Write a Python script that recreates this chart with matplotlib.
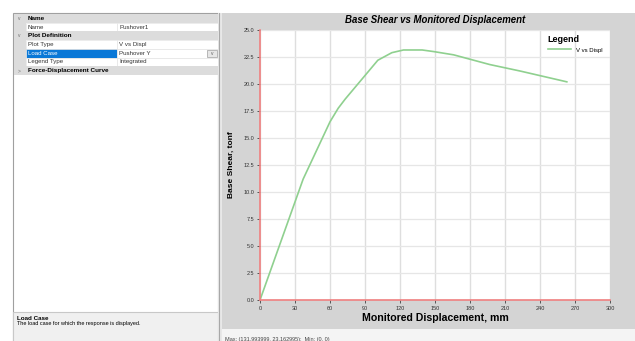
import matplotlib
matplotlib.use("Agg")
import matplotlib.pyplot as plt
from matplotlib.patches import Rectangle

plt.rcParams['font.family'] = ['Liberation Sans', 'DejaVu Sans']

# pushover curve
disp = [0, 37, 60, 67, 73, 101, 113, 123, 139, 149, 166, 197, 223, 263]
shear = [0, 11.2, 16.5, 17.75, 18.6, 22.2, 22.9, 23.15, 23.15, 23.0, 22.7, 21.8, 21.2, 20.2]

x_ticks = [0, 30, 60, 90, 120, 150, 180, 210, 240, 270, 300]
y_ticks = [0, 2.5, 5, 7.5, 10, 12.5, 15, 17.5, 20, 22.5, 25]

grid_rows = [("Name", None, True), ("Name", "Pushover1", False),
             ("Plot Definition", None, True), ("Plot Type", "V vs Displ", False),
             ("Load Case", "Pushover Y", False), ("Legend Type", "Integrated", False),
             ("Force-Displacement Curve", None, True)]

W, H = 635, 341
fig = plt.figure(figsize=(W / 100, H / 100), dpi=100)

# window chrome drawn in pixel coordinates
bg = fig.add_axes([0, 0, 1, 1])
bg.set_xlim(0, W)
bg.set_ylim(H, 0)
bg.axis("off")

bg.add_patch(Rectangle((13, 13), 205, 330, fc="white", ec="#a0a0a0", lw=0.8))
bg.add_patch(Rectangle((13, 312), 205, 30, fc="#f0f0f0", ec="#c8c8c8", lw=0.8))
bg.text(17, 318, "Load Case", fontsize=4.5, weight="bold", va="center")
bg.text(17, 324, "The load case for which the response is displayed.", fontsize=4, va="center")

y0, rh = 14, 8.7
for i, (lab, val, header) in enumerate(grid_rows):
    top = y0 + i * rh
    mid = top + rh / 2
    if header:
        bg.add_patch(Rectangle((14, top), 204, rh, fc="#dcdcdc", ec="none"))
        sym = ">" if lab.startswith("Force") else "v"
        bg.text(19, mid, sym, fontsize=3.5, color="#707070", va="center", ha="center")
        bg.text(28, mid, lab, fontsize=4.6, weight="bold", va="center")
    else:
        bg.add_patch(Rectangle((14, top), 12, rh, fc="#dcdcdc", ec="none"))
        sel = lab == "Load Case"
        bg.add_patch(Rectangle((26, top), 91, rh, fc="#0a78d7" if sel else "white",
                               ec="#e4e4e4", lw=0.5))
        bg.add_patch(Rectangle((117, top), 101, rh, fc="white", ec="#e4e4e4", lw=0.5))
        bg.text(28, mid, lab, fontsize=4.4, va="center", color="white" if sel else "#333333")
        bg.text(119, mid, val, fontsize=4.4, va="center", color="#333333")
        if sel:
            bg.add_patch(Rectangle((207, top + 1), 10, rh - 2, fc="#e6e6e6", ec="#a0a0a0", lw=0.5))
            bg.text(212, mid, "v", fontsize=3.5, ha="center", va="center", color="#606060")

# right panel background
bg.add_patch(Rectangle((218, 13), 4, 330, fc="#e8e8e8", ec="none"))
bg.plot([219, 219], [13, 341], color="#a8a8a8", lw=0.8)
bg.add_patch(Rectangle((222, 13), 413, 316, fc="#d4d4d4", ec="none"))
bg.add_patch(Rectangle((222, 329), 413, 12, fc="#f4f4f4", ec="none"))
bg.text(225, 339, "Max: (131.993999, 23.162995);  Min: (0, 0)", fontsize=4, va="center", color="#444444")

# chart
ax = fig.add_axes([260 / W, (H - 300) / H, 350 / W, 270 / H])
ax.set_facecolor("white")
ax.plot(disp, shear, color="#8fd08f", lw=1.2, label="V vs Displ")
ax.set_xlim(0, 300)
ax.set_ylim(0, 25)
ax.set_xticks(x_ticks)
ax.set_xticklabels([str(v) for v in x_ticks])
ax.set_yticks(y_ticks)
ax.set_yticklabels(["%.1f" % v for v in y_ticks])
ax.tick_params(labelsize=4, length=2, width=0.6, color="#404040", pad=2, labelcolor="#333333")
ax.grid(True, color="#e6e6e6", lw=0.9)
ax.xaxis.grid(True, color="#dedede", lw=1.0)
ax.set_axisbelow(True)
for s in ("top", "right"):
    ax.spines[s].set_visible(False)
for s in ("left", "bottom"):
    ax.spines[s].set_color("#f08080")
    ax.spines[s].set_linewidth(1.2)

ax.set_title("Base Shear vs Monitored Displacement", fontsize=6.9, weight="bold",
             style="italic", pad=5)
ax.set_xlabel("Monitored Displacement, mm", fontsize=7.6, weight="bold", labelpad=2)
ax.set_ylabel("Base Shear, tonf", fontsize=6, weight="bold", labelpad=6)

leg = ax.legend(loc="upper right", bbox_to_anchor=(0.995, 1.0), frameon=False,
                title="Legend", fontsize=4.3, title_fontsize=6.5, handlelength=4)
leg.get_title().set_fontweight("bold")
leg._legend_box.align = "left"

fig.savefig("out.png", dpi=100)
